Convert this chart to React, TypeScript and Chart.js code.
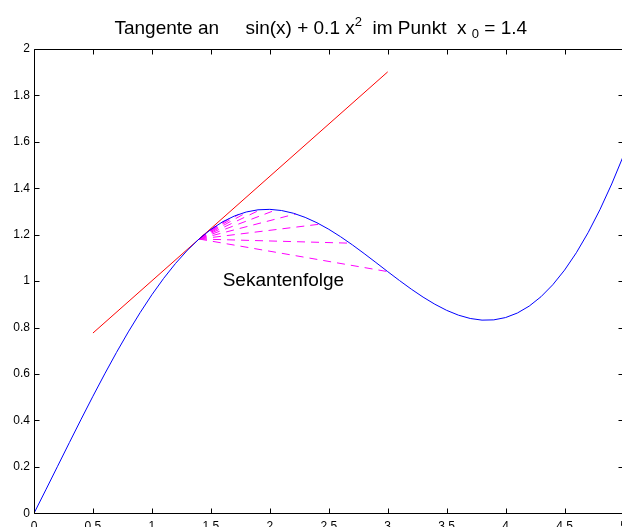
import React, { useEffect, useRef } from "react";
import { Chart, registerables } from "chart.js";

Chart.register(...registerables);

// ---- data ----
const curveX = [
  0, 0.1, 0.2, 0.3, 0.4, 0.5, 0.6, 0.7, 0.8, 0.9, 1.0, 1.1, 1.2, 1.3, 1.4, 1.5, 1.6, 1.7, 1.8, 1.9,
  2.0, 2.1, 2.2, 2.3, 2.4, 2.5, 2.6, 2.7, 2.8, 2.9, 3.0, 3.1, 3.2, 3.3, 3.4, 3.5, 3.6, 3.7, 3.8, 3.9,
  4.0, 4.1, 4.2, 4.3, 4.4, 4.5, 4.6, 4.7, 4.8, 4.9, 5.0,
];
const curveY = [
  0, 0.1008, 0.2027, 0.3045, 0.4054, 0.5044, 0.6006, 0.6932, 0.7814, 0.8643, 0.9415, 1.0122, 1.076,
  1.1326, 1.1815, 1.2225, 1.2556, 1.2807, 1.2979, 1.3073, 1.3093, 1.3042, 1.2925, 1.2747, 1.2515,
  1.2235, 1.1915, 1.1564, 1.119, 1.0803, 1.0411, 1.0026, 0.9656, 0.9313, 0.9005, 0.8742, 0.8535,
  0.8392, 0.8321, 0.8332, 0.8432, 0.8627, 0.8924, 0.9328, 0.9844, 1.0475, 1.1223, 1.2091, 1.3078,
  1.4186, 1.5411,
];
const tangentX = [0.5, 3.0];
const tangentY = [0.7765, 1.9014];
const pointX0 = 1.4;
const pointY0 = 1.1815;
const secantEndX = [
  3.0, 2.68, 2.424, 2.219, 2.055, 1.924, 1.819, 1.736, 1.668, 1.615, 1.572, 1.537, 1.51, 1.488,
  1.47, 1.456, 1.445, 1.436, 1.429, 1.423,
];
const secantEndY = [
  1.0411, 1.1636, 1.2454, 1.2896, 1.3074, 1.3085, 1.3003, 1.2879, 1.2736, 1.2598, 1.2471, 1.2357,
  1.2262, 1.218, 1.211, 1.2054, 1.2009, 1.1971, 1.1942, 1.1916,
];
const xTicks = [0, 0.5, 1, 1.5, 2, 2.5, 3, 3.5, 4, 4.5, 5];
const yTicks = [0, 0.2, 0.4, 0.6, 0.8, 1, 1.2, 1.4, 1.6, 1.8, 2];
const xTickLabels = ["0", "0.5", "1", "1.5", "2", "2.5", "3", "3.5", "4", "4.5", "5"];
const yTickLabels = ["0", "0.2", "0.4", "0.6", "0.8", "1", "1.2", "1.4", "1.6", "1.8", "2"];
const annotationText = "Sekantenfolge";
const annotationX = 1.6;
const annotationY = 1.0;
// title pieces: [text, kind]
const titleParts: [string, string][] = [
  ["Tangente an     sin(x) + 0.1 x", "n"],
  ["2", "sup"],
  ["  im Punkt  x ", "n"],
  ["0", "sub"],
  [" = 1.4", "n"],
];

const FONT = "Arial, 'Liberation Sans', Helvetica, sans-serif";

export default function App() {
  const ref = useRef<HTMLCanvasElement>(null);

  useEffect(() => {
    const canvas = ref.current!;
    const H = 540;

    const decor = {
      id: "decor",
      afterDatasetsDraw(chart: any) {
        const ctx = chart.ctx as CanvasRenderingContext2D;
        const a = chart.chartArea;
        const xs = chart.scales.x;
        const ys = chart.scales.y;
        const L = Math.round(a.left) + 0.5;
        const R = Math.round(a.right) - 0.5;
        const T = Math.round(a.top) + 0.5;
        const B = Math.round(a.bottom) + 0.5;
        const tl = 5;
        ctx.save();
        ctx.strokeStyle = "#000";
        ctx.lineWidth = 1;
        ctx.beginPath();
        ctx.rect(L, T, R - L, B - T);
        ctx.stroke();
        ctx.beginPath();
        for (const v of xTicks) {
          const p = Math.round(xs.getPixelForValue(v)) + 0.5;
          ctx.moveTo(p, B);
          ctx.lineTo(p, B - tl);
          ctx.moveTo(p, T);
          ctx.lineTo(p, T + tl);
        }
        for (const v of yTicks) {
          const p = Math.round(ys.getPixelForValue(v)) + 0.5;
          ctx.moveTo(L, p);
          ctx.lineTo(L + tl, p);
          ctx.moveTo(R, p);
          ctx.lineTo(R - tl, p);
        }
        ctx.stroke();

        // annotation
        ctx.fillStyle = "#000";
        ctx.font = `19px ${FONT}`;
        ctx.textAlign = "left";
        ctx.textBaseline = "middle";
        ctx.fillText(annotationText, xs.getPixelForValue(annotationX), ys.getPixelForValue(annotationY));

        // title
        const big = `19px ${FONT}`;
        const small = `13px ${FONT}`;
        let total = 0;
        const widths: number[] = [];
        for (const [t, k] of titleParts) {
          ctx.font = k === "n" ? big : small;
          const w = ctx.measureText(t).width;
          widths.push(w);
          total += w;
        }
        let x = (a.left + a.right) / 2 - 8 - total / 2;
        const baseY = 34;
        ctx.textBaseline = "alphabetic";
        titleParts.forEach(([t, k], i) => {
          ctx.font = k === "n" ? big : small;
          const dy = k === "sup" ? -8 : k === "sub" ? 4 : 0;
          ctx.fillText(t, x, baseY + dy);
          x += widths[i];
        });
        ctx.restore();
      },
    };

    const datasets: any[] = [
      {
        data: curveX.map((x, i) => ({ x, y: curveY[i] })),
        borderColor: "#0000ff",
        borderWidth: 1,
      },
      {
        data: tangentX.map((x, i) => ({ x, y: tangentY[i] })),
        borderColor: "#ff0000",
        borderWidth: 1,
      },
      ...secantEndX.map((ex, i) => ({
        data: [
          { x: pointX0, y: pointY0 },
          { x: ex, y: secantEndY[i] },
        ],
        borderColor: "#ff00ff",
        borderWidth: 1,
        borderDash: [8, 6],
      })),
    ];
    datasets.forEach((d) => {
      d.showLine = true;
      d.pointRadius = 0;
      d.fill = false;
      d.tension = 0;
    });

    const chart = new Chart(canvas, {
      type: "scatter",
      data: { datasets },
      plugins: [decor],
      options: {
        responsive: false,
        animation: false,
        devicePixelRatio: 1,
        layout: { padding: { top: 49, right: 16.5, left: 0, bottom: 0 } },
        plugins: { legend: { display: false }, tooltip: { enabled: false }, title: { display: false } },
        scales: {
          x: {
            type: "linear",
            min: 0,
            max: 5,
            grid: { display: false, drawTicks: false },
            border: { display: false },
            afterBuildTicks: (s: any) => {
              s.ticks = xTicks.map((v) => ({ value: v }));
            },
            afterFit: (s: any) => {
              s.height = H - 513.3;
            },
            ticks: {
              autoSkip: false,
              maxRotation: 0,
              padding: 6,
              color: "#000",
              font: { family: FONT, size: 12 },
              callback: (_v: any, i: number) => xTickLabels[i],
            },
          },
          y: {
            type: "linear",
            min: 0,
            max: 2,
            grid: { display: false, drawTicks: false },
            border: { display: false },
            afterBuildTicks: (s: any) => {
              s.ticks = yTicks.map((v) => ({ value: v }));
            },
            afterFit: (s: any) => {
              s.width = 34;
            },
            ticks: {
              autoSkip: false,
              padding: 4,
              color: "#000",
              font: { family: FONT, size: 12 },
              callback: (_v: any, i: number) => yTickLabels[i],
            },
          },
        },
      },
    });
    return () => chart.destroy();
  }, []);

  return (
    <div
      style={{
        position: "fixed",
        left: 0,
        top: 0,
        width: 622,
        height: 527,
        overflow: "hidden",
        background: "#fff",
      }}
    >
      <canvas ref={ref} width={640} height={540} style={{ display: "block", width: 640, height: 540 }} />
    </div>
  );
}
